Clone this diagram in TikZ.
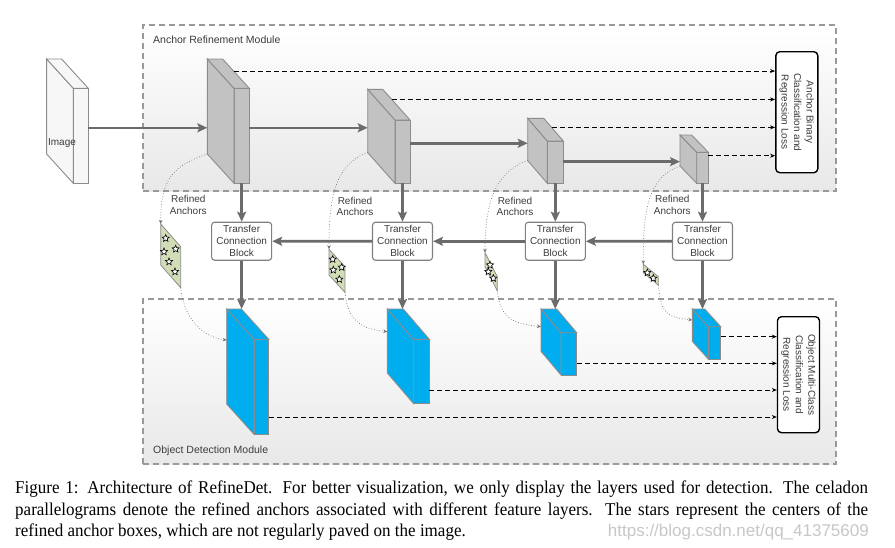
\documentclass[tikz,border=0pt]{standalone}
\usepackage{fontspec}
\setmainfont{Liberation Serif}
\setsansfont{Liberation Sans}
\usepackage{xcolor}
\usepackage{tikz}
\usetikzlibrary{arrows.meta,calc,shapes.geometric}

\definecolor{blockgray}{HTML}{C2C2C2}
\definecolor{edgegray}{HTML}{8C8C8C}
\definecolor{flowgray}{HTML}{6B6B6B}
\definecolor{detblue}{HTML}{00AEEF}
\definecolor{celadon}{HTML}{D1DDB6}
\definecolor{textgray}{HTML}{3C3C3C}

\begin{document}
\begin{tikzpicture}[x=1pt,y=-1pt,
    font=\sffamily\fontsize{10}{12}\selectfont,
    module/.style={draw=black!40, dash pattern=on 6pt off 4pt, line width=1.1pt, top color=white, bottom color=black!9, inner sep=0pt},
    fmap/.style={draw=edgegray, line width=0.9pt, inner sep=0pt, outer sep=0pt},
    tcb/.style={draw=black!50, line width=1.1pt, rounded corners=3pt, fill=white, minimum width=60pt, minimum height=38pt, align=center, text=textgray, inner sep=0pt},
    lossbox/.style={draw=black, line width=1.4pt, rounded corners=4pt, fill=white, rotate=-90, align=center, text=textgray, inner sep=0pt, font=\sffamily\fontsize{10}{12.5}\selectfont},
    flow/.style={draw=flowgray, line width=2.6pt, -{Stealth[length=10pt,width=9pt,inset=2pt]}},
    det/.style={draw=black, line width=1pt, dash pattern=on 5pt off 3pt, -{Stealth[length=5pt,width=4pt]}},
    refine/.style={draw=black!55, line width=0.7pt, dotted, -{Stealth[length=4pt,width=3.5pt]}},
    anchorpar/.style={draw=black!45, line width=0.8pt, fill=celadon},
    anchorstar/.style={star, star points=5, star point ratio=2.2, draw=black, fill=white, line width=0.6pt, minimum size=7.5pt, inner sep=0pt},
    lbl/.style={align=center, text=textgray, inner sep=0pt}]
    \useasboundingbox (0,0) rectangle (895,547);

    % Modules
    \node[module, minimum width=693pt, minimum height=166pt] (arm) at (489.5,108) {};
    \node[lbl, anchor=west, font=\sffamily\fontsize{10.5}{12}\selectfont] (armlbl) at (153,40) {Anchor Refinement Module};
    \node[module, minimum width=693pt, minimum height=165pt] (odm) at (489.5,381.5) {};
    \node[lbl, anchor=west, font=\sffamily\fontsize{10.5}{12}\selectfont] (odmlbl) at (153,451) {Object Detection Module};

    % Image, backbone maps (gray) and detection maps (blue)
    \foreach \nm/\xa/\ya/\xb/\yb/\dx/\dy/\col in {
        img/73.3/88.3/88.3/183.3/26.7/29.3/black!3,
        g1/234/88.3/249.3/183.3/26.7/29.3/blockgray,
        g2/395/120/410/183.3/27.3/30.7/blockgray,
        g3/547.3/141/563.3/183.3/19.6/22.7/blockgray,
        g4/696.7/152.3/708.3/183.3/16.7/17.3/blockgray,
        b1/254/339.3/268.7/434.3/27.3/30.3/detblue,
        b2/413.3/339.3/429.3/403.3/26/30.3/detblue,
        b3/561/332.7/576.7/375/20/23.7/detblue,
        b4/708.3/326.7/720.7/359/16/17.7/detblue}{
      \node[fmap, fill=\col, minimum width={\xb-\xa}, minimum height={\yb-\ya}] (\nm) at ({(\xa+\xb)/2},{(\ya+\yb)/2}) {};
      \coordinate (\nm-b) at ($(\nm.north west)+(-\dx,-\dy)$);
      \coordinate (\nm-c) at ($(\nm.north east)+(-\dx,-\dy)$);
      \coordinate (\nm-d) at ($(\nm.south west)+(-\dx,-\dy)$);
      \draw[fmap, fill=\col] (\nm.north west) -- (\nm-b) -- (\nm-d) -- (\nm.south west) -- cycle;
      \draw[fmap, fill=\col] (\nm.north west) -- (\nm-b) -- (\nm-c) -- (\nm.north east) -- cycle;
    }
    \node[lbl] (imglbl) at (62,143) {Image};

    % Transfer connection blocks
    \foreach \k in {1,...,4}
      \node[tcb, anchor=north] (t\k) at ([yshift=-38.4pt]g\k.south) {Transfer\\Connection\\Block};

    % Loss boxes
    \node[lossbox, minimum width=121pt, minimum height=42pt] (lossA) at (796.8,112.2) {Anchor Binary\\Classification and\\Regression Loss};
    \node[lossbox, minimum width=116pt, minimum height=42pt] (lossO) at (798.5,374.7) {Object Multi-Class\\Classification and\\Regression Loss};

    % Forward path
    \draw[flow] ([yshift=8pt]img.east) coordinate (f0) -- (f0 -| g1-b);
    \draw[flow] ([yshift=8pt]g1.east) coordinate (f1) -- (f1 -| g2-b);
    \draw[flow] ([yshift=8.4pt]g2.east) coordinate (f2) -- (f2 -| g3-b);
    \draw[flow] ([yshift=0.5pt]g3.east) coordinate (f3) -- (f3 -| g4-b);
    \foreach \k in {1,...,4} {
      \draw[flow] (g\k.south) -- (t\k.north);
      \draw[flow] (t\k.south) -- (t\k.south |- b\k-b);
    }
    \foreach \a/\b in {4/3,3/2,2/1}
      \draw[flow] (t\a.west) -- (t\b.east);

    % Anchor refinement losses
    \draw[det] ($(g1.north east)!0.59!(g1-c)$) coordinate (d1) -- (d1 -| lossA.south);
    \draw[det] ($(g2.north east)!0.67!(g2-c)$) coordinate (d2) -- (d2 -| lossA.south);
    \draw[det] ($(g3.north east)!0.6!(g3-c)$) coordinate (d3) -- (d3 -| lossA.south);
    \draw[det] ([yshift=-3.4pt]g4.north east) coordinate (d4) -- (d4 -| lossA.south);

    % Object detection losses
    \draw[det] ([yshift=-30.2pt]b1.east) coordinate (e1) -- (e1 -| lossO.south);
    \draw[det] ([yshift=-18.7pt]b2.east) coordinate (e2) -- (e2 -| lossO.south);
    \draw[det] ([yshift=-9.5pt]b3.east) coordinate (e3) -- (e3 -| lossO.south);
    \draw[det] ([yshift=6.2pt]b4.east) coordinate (e4) -- (e4 -| lossO.south);

    % Refined anchors
    \foreach \k/\px/\py/\pw/\pd/\ph in {1/160.7/224/20/22.7/41, 2/329/249.3/16/17.4/25.7, 3/485/252.7/12.3/24/14, 4/643.3/264.3/15/12.4/8.4}{
      \coordinate (p\k) at (\px,\py);
      \draw[anchorpar] (p\k) -- ++(\pw,\pd) -- ++(0,\ph) coordinate (p\k-e) -- ++(-\pw,-\pd) -- cycle;
    }
    \foreach \sx/\sy [count=\k] in {165.7/238.3, 175.7/249, 164/251.7, 169/261.7, 175/271.7,
        332.7/259.3, 333.3/270, 341.7/267.3, 339.3/279.3,
        490/265, 488.3/271.7, 493.3/278.3, 647.3/272.7, 653.3/278.3}
      \node[anchorstar] (s\k) at (\sx,\sy) {};
    \foreach \k/\ty in {1/31, 2/22.7, 3/17.7, 4/11}{
      \draw[refine] (g\k-d) .. controls +(-35,12) and +(0,-45) .. (p\k);
      \draw[refine] (p\k-e) .. controls +(3,30) and +(-25,-3) .. ($(b\k-b)+(0,\ty)$);
    }
    \foreach \k/\lx/\ly in {1/188.3/205, 2/355/206.5, 3/515/206.5, 4/672.3/205}
      \node[lbl, font=\sffamily\fontsize{10}{11.7}\selectfont] (r\k) at (\lx,\ly) {Refined\\Anchors};

    % Caption
    \node[anchor=north west, inner sep=0pt, font=\rmfamily\fontsize{18}{21.3}\selectfont] (cap) at (15,481)
      {\scalebox{0.945}[1]{\parbox{902.6pt}{Figure 1: Architecture of RefineDet. For better visualization, we only display the layers used for detection. The celadon\linebreak parallelograms denote the refined anchors associated with different feature layers. The stars represent the centers of the\linebreak refined anchor boxes, which are not regularly paved on the image.}}};
    \node[anchor=east, text=black!22, font=\sffamily\fontsize{17}{17}\selectfont, inner sep=0pt] (wm) at (869,532) {https://blog.csdn.net/qq\_41375609};
\end{tikzpicture}
\end{document}
